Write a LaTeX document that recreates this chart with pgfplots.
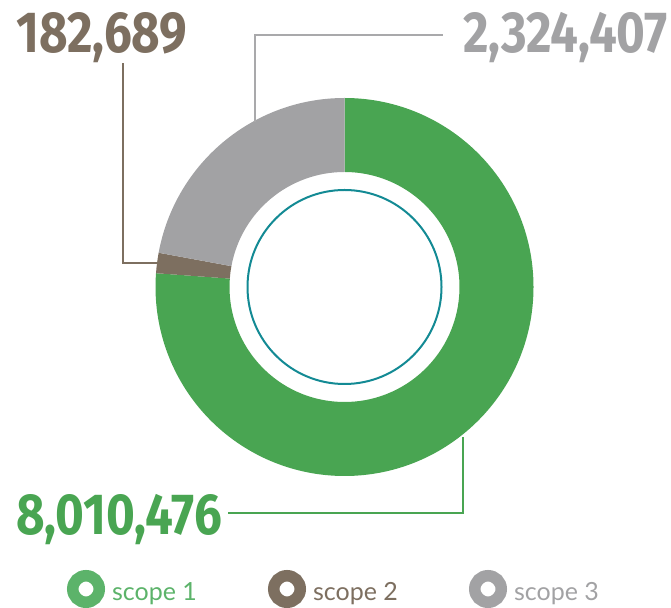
\documentclass[border=0pt]{standalone}
\usepackage{pgfplots}
\usepackage{pgfplotstable}
\pgfplotsset{compat=1.18}
\usepackage{fontspec}
\setmainfont{Lato}
\newfontfamily\numfont[FakeStretch=0.85]{Fira Sans}
\definecolor{cgreen}{HTML}{49A552}
\definecolor{cbrown}{HTML}{7D6F60}
\definecolor{cgray}{HTML}{A2A2A4}
\definecolor{cteal}{HTML}{138A94}
\definecolor{lgreen}{HTML}{5CB36A}
\definecolor{lgray}{HTML}{A9A9AB}

\pgfplotstableread{
label value
1 8010476
2 182689
3 2324407
}\donutdata

\begin{document}
\begin{tikzpicture}
\pgfplotstablegetelem{0}{value}\of\donutdata \edef\vA{\pgfplotsretval}
\pgfplotstablegetelem{1}{value}\of\donutdata \edef\vB{\pgfplotsretval}
\pgfplotstablegetelem{2}{value}\of\donutdata \edef\vC{\pgfplotsretval}
\edef\aA{\fpeval{90-360*\vA/(\vA+\vB+\vC)}}
\edef\aB{\fpeval{\aA-360*\vB/(\vA+\vB+\vC)}}
\def\aC{-270}
\newcommand\seg[3]{%
  \fill[#1] ([shift={(#2:189pt)}]axis cs:344.5,320) arc[start angle=#2, end angle=#3, radius=189pt]
    -- ([shift={(#3:115pt)}]axis cs:344.5,320) arc[start angle=#3, end angle=#2, radius=115pt] -- cycle;}
\begin{axis}[
  x=1pt, y=1pt, xmin=0, xmax=671, ymin=0, ymax=607,
  hide axis, clip=false,
  legend image code/.code={\draw[#1] (19pt,3.5pt) circle[radius=13.25pt];},
  legend columns=3,
  legend style={at={(axis cs:67,18)}, anchor=west, draw=none, fill=none,
    inner sep=0pt, outer sep=0pt,
    nodes={inner sep=0pt, font=\fontsize{25}{25}\selectfont},
    /tikz/every odd column/.append style={column sep=7pt}},
]
\addlegendimage{color=lgreen, line width=11.5pt}
\addlegendentry{\makebox[156pt][l]{\textcolor{lgreen}{scope 1}}}
\addlegendimage{color=cbrown, line width=11.5pt}
\addlegendentry{\makebox[156pt][l]{\textcolor{cbrown}{scope 2}}}
\addlegendimage{color=cgray, line width=11.5pt}
\addlegendentry{\makebox[156pt][l]{\textcolor{cgray}{scope 3}}}

\seg{cgreen}{90}{\aA}
\seg{cbrown}{\aA}{\aB}
\seg{cgray}{\aB}{\aC}
\draw[cteal, line width=2pt] (axis cs:344.5,320) circle[radius=97pt];

\draw[lgray, line width=1.8pt] (axis cs:255,485) -- (axis cs:255,572) -- (axis cs:443,572);
\draw[cbrown, line width=1.8pt] (axis cs:157,344) -- (axis cs:123,344) -- (axis cs:123,544);
\draw[cgreen, line width=1.8pt] (axis cs:463,170) -- (axis cs:463,94) -- (axis cs:228,94);

\node[anchor=base west, inner sep=0pt, text=cbrown, font=\numfont\bfseries\fontsize{58}{58}\selectfont] at (axis cs:16,554) {182,689};
\node[anchor=base east, inner sep=0pt, text=cgray, font=\numfont\bfseries\fontsize{58}{58}\selectfont] at (axis cs:668,554) {2,324,407};
\node[anchor=base west, inner sep=0pt, text=cgreen, font=\numfont\bfseries\fontsize{58}{58}\selectfont] at (axis cs:16,72) {8,010,476};
\end{axis}
\pgfresetboundingbox
\path (0,0) rectangle (671pt,607pt);
\end{tikzpicture}
\end{document}
